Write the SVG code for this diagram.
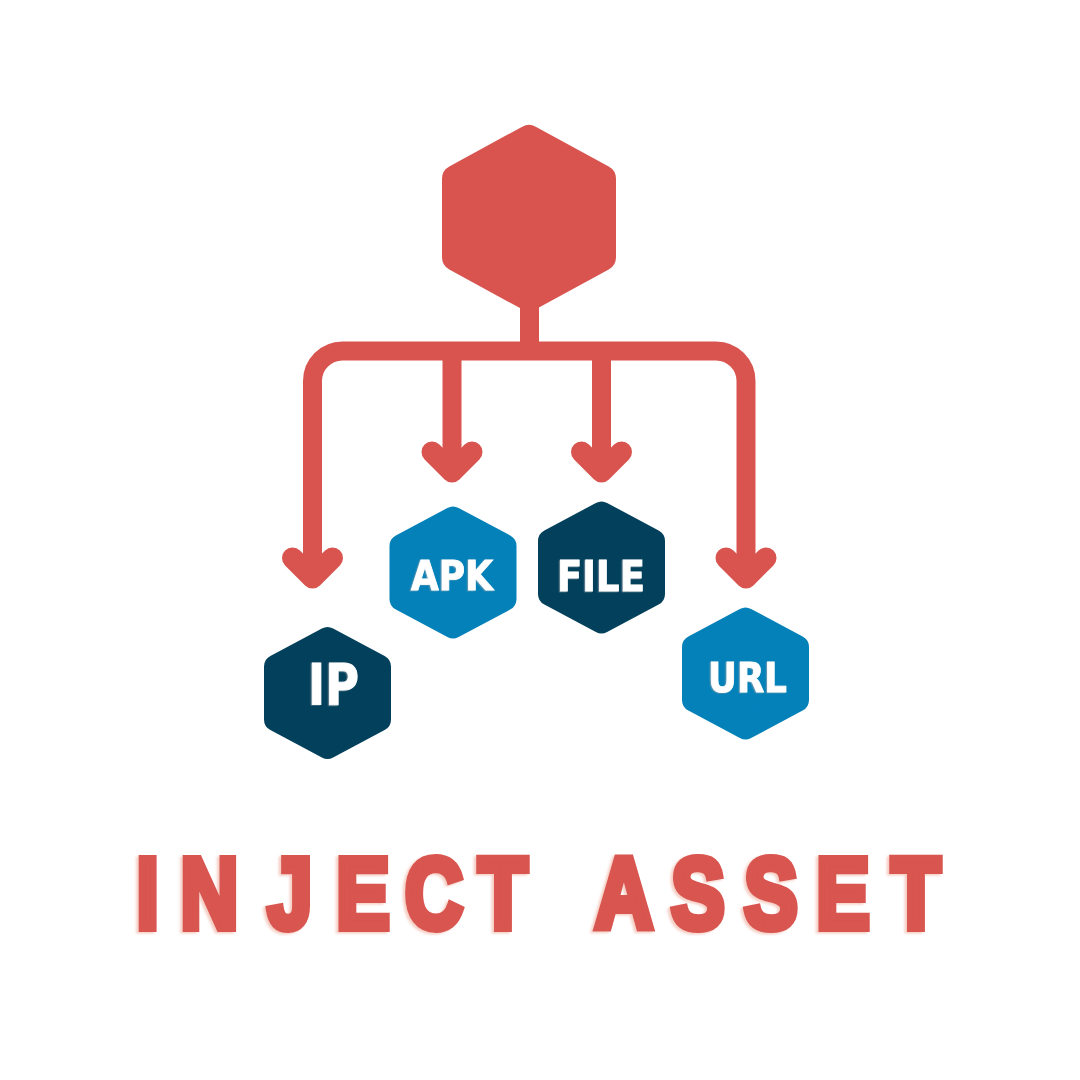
<svg xmlns="http://www.w3.org/2000/svg" width="1080" height="1080" viewBox="0 0 1080 1080">
  <defs>
    <style>
      .hex { stroke-linejoin: round; }
      .hs { stroke-width: 24; }
      .hl { stroke-width: 28; }
      .red { fill: #d9544f; stroke: #d9544f; }
      .navy { fill: #03405c; stroke: #03405c; }
      .blue { fill: #0481b9; stroke: #0481b9; }
      .conn { fill: none; stroke: #d9544f; stroke-width: 19; }
      .head { fill: none; stroke: #d9544f; stroke-width: 21; stroke-linecap: round; stroke-linejoin: round; }
      .lbl { font-family: "DejaVu Sans Condensed", "DejaVu Sans", sans-serif; font-weight: bold; fill: #ffffff; stroke: #ffffff; stroke-width: 0.8; text-anchor: middle; filter: url(#lblShadow); }
      .title { font-family: "Liberation Sans", Arial, sans-serif; font-weight: bold; fill: #d9544f; stroke: #d9544f; stroke-width: 8; stroke-linejoin: miter; font-size: 100px; text-anchor: middle; filter: url(#titleGlow); }
    </style>
    <polygon id="hexSmall" points="0,-53.9 51.5,-26.5 51.5,26.5 0,53.9 -51.5,26.5 -51.5,-26.5"/>
    <filter id="lblShadow" x="-20%" y="-20%" width="140%" height="140%">
      <feDropShadow dx="-1.2" dy="0.6" stdDeviation="0.2" flood-color="#9aa3aa" flood-opacity="0.6"/>
    </filter>
    <filter id="titleGlow" x="-5%" y="-10%" width="110%" height="120%">
      <feDropShadow dx="-3" dy="1.5" stdDeviation="1.2" flood-color="#f4c4b8" flood-opacity="0.85"/>
    </filter>
  </defs>
  <rect width="1080" height="1080" fill="#ffffff"/>

  <g id="connectors">
    <path class="conn" d="M529.5 300 V351"/>
    <path class="conn" d="M312.5 578 V381 A30 30 0 0 1 342.5 351 H716 A30 30 0 0 1 746 381 V578"/>
    <path class="conn" d="M452 351 V472"/>
    <path class="conn" d="M601.5 351 V472"/>
    <path class="head" d="M292.5 558 L312.5 578 L332.5 558"/>
    <path class="head" d="M432 452 L452 472 L472 452"/>
    <path class="head" d="M581.5 452 L601.5 472 L621.5 452"/>
    <path class="head" d="M726 558 L746 578 L766 558"/>
  </g>

  <g id="node-inject">
    <polygon class="hex hl red" points="529,138.95 602,178.8 602,257.2 529,297.05 456,257.2 456,178.8"/>
  </g>

  <g id="node-ip">
    <use href="#hexSmall" class="hex hs navy" transform="translate(327.5,693)"/>
    <text class="lbl" x="333.5" y="705" font-size="57" textLength="51" lengthAdjust="spacingAndGlyphs">IP</text>
  </g>

  <g id="node-apk">
    <use href="#hexSmall" class="hex hs blue" transform="translate(453,572.5)"/>
    <text class="lbl" x="452" y="590" font-size="41" textLength="82" lengthAdjust="spacingAndGlyphs">APK</text>
  </g>

  <g id="node-file">
    <use href="#hexSmall" class="hex hs navy" transform="translate(601.5,567.5)"/>
    <text class="lbl" x="601" y="591" font-size="43" textLength="88" lengthAdjust="spacingAndGlyphs">FILE</text>
  </g>

  <g id="node-url">
    <use href="#hexSmall" class="hex hs blue" transform="translate(745.5,673.5)"/>
    <text class="lbl" x="747.5" y="692" font-size="41" textLength="79" lengthAdjust="spacingAndGlyphs">URL</text>
  </g>

  <g id="title" transform="scale(0.8,1)">
    <text class="title" x="184.4 261.9 362.5 453.75 542.5 628.75 700 780 872.5 963.75 1053.75 1145" y="928">INJECT ASSET</text>
  </g>
</svg>
